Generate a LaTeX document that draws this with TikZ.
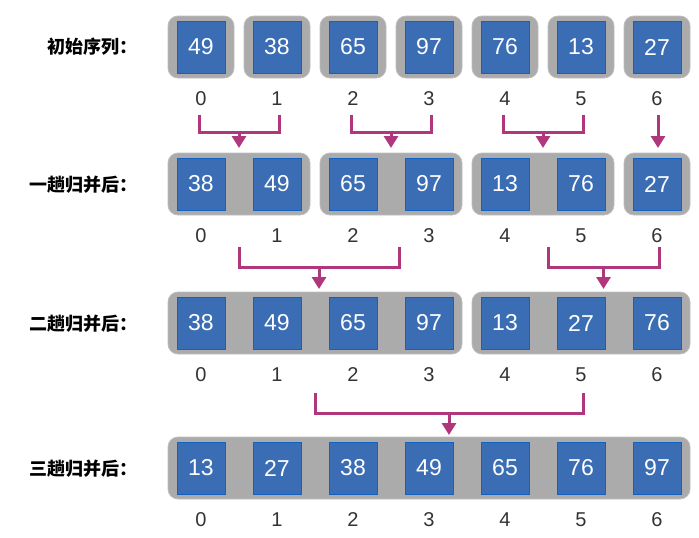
\documentclass[tikz,border=0pt]{standalone}
\usepackage{fontspec}
\setmainfont{Liberation Sans}
\newfontfamily\cjk{Noto Sans CJK SC}
\usetikzlibrary{arrows.meta}
\definecolor{cellblue}{HTML}{3A6DB4}
\definecolor{celledge}{HTML}{1262C4}
\definecolor{grpgray}{HTML}{ABABAB}
\definecolor{grpedge}{HTML}{BEBEBE}
\definecolor{mergepink}{HTML}{B1377C}
\tikzset{
  cell/.style={draw=celledge,line width=0.8pt,fill=cellblue,minimum width=48pt,minimum height=52pt,inner sep=0pt,text=white,font=\fontsize{23}{23}\selectfont},
  idx/.style={text=black!80,inner sep=0pt,font=\fontsize{20}{20}\selectfont},
  rowlabel/.style={anchor=east,inner sep=0pt,font=\cjk\bfseries\fontsize{18}{18}\selectfont},
  grp/.style={fill=grpgray,draw=grpedge,line width=0.8pt,rounded corners=10pt},
  merge/.style={draw=mergepink,line width=3pt},
  mergearrow/.style={merge,-{Triangle[width=14pt,length=12pt]}}
}

\begin{document}
\begin{tikzpicture}[x=1pt,y=-1pt]
\useasboundingbox (0,0) rectangle (699,538);
% gray groups
\foreach \cy/\a/\b in {47/0/0,47/1/1,47/2/2,47/3/3,47/4/4,47/5/5,47/6/6,
  184/0/1,184/2/3,184/4/5,184/6/6, 323/0/3,323/4/6, 468/0/6}
  \filldraw[grp] ({201+76*\a-33},{\cy-31}) rectangle ({201+76*\b+33},{\cy+31});
% cells and indices
\foreach \r/\cy/\vals in {1/47/{49,38,65,97,76,13,27}, 2/184/{38,49,65,97,13,76,27},
  3/323/{38,49,65,97,13,27,76}, 4/468/{13,27,38,49,65,76,97}}{
  \foreach \v [count=\i from 0] in \vals {
    \node[cell] (c\r\i) at ({201+76*\i},\cy) {\v};
    \node[idx] (i\r\i) at ({201+76*\i},{\cy+52}) {\i};
  }
}
% row labels
\node[rowlabel] (lab1) at (138,47) {初始序列：};
\node[rowlabel] (lab2) at (138,185) {一趟归并后：};
\node[rowlabel] (lab3) at (138,324) {二趟归并后：};
\node[rowlabel] (lab4) at (138,469) {三趟归并后：};
% merge brackets
\foreach \k/\l/\r/\top/\mid/\tip in {a/199/279/115/132/148, b/351/431/115/132/148,
  c/503/583/115/132/148, e/239/399/247/267/289, f/548/659/247/267/289, g/315/583/393/413/435}{
  \coordinate (\k l) at (\l,\top);
  \coordinate (\k r) at (\r,\top);
  \coordinate (\k m) at ({(\l+\r)/2},\mid);
  \coordinate (\k t) at ({(\l+\r)/2},\tip);
  \draw[merge] (\k l) |- (\k m) -| (\k r);
  \draw[mergearrow] (\k m) -- (\k t);
}
\coordinate (dl) at (658,115);
\coordinate (dt) at (658,148);
\draw[mergearrow] (dl) -- (dt);
\end{tikzpicture}
\end{document}
